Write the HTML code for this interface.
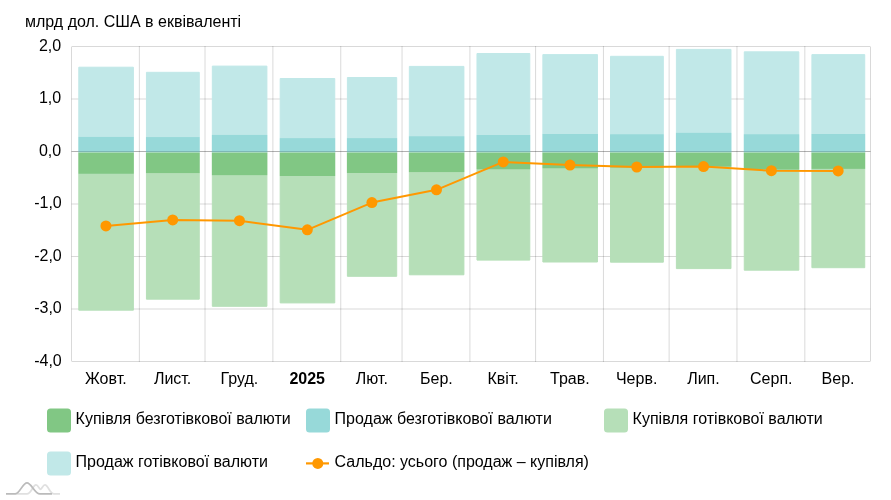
<!DOCTYPE html>
<html lang="uk"><head><meta charset="utf-8"><title>Chart</title>
<style>html,body{margin:0;padding:0;background:#fff}svg text{font-family:"Liberation Sans", Arial, sans-serif}body{width:891px;height:500px;overflow:hidden}</style>
</head><body>
<svg width="891" height="500" viewBox="0 0 891 500" style="display:block">
<rect width="891" height="500" fill="#fff"/>
<line x1="71.5" x2="870.5" y1="46.5" y2="46.5" stroke="#000" stroke-opacity="0.15" stroke-width="1"/>
<line x1="71.5" x2="870.5" y1="99.0" y2="99.0" stroke="#000" stroke-opacity="0.15" stroke-width="1"/>
<line x1="71.5" x2="870.5" y1="204.0" y2="204.0" stroke="#000" stroke-opacity="0.15" stroke-width="1"/>
<line x1="71.5" x2="870.5" y1="256.5" y2="256.5" stroke="#000" stroke-opacity="0.15" stroke-width="1"/>
<line x1="71.5" x2="870.5" y1="309.0" y2="309.0" stroke="#000" stroke-opacity="0.15" stroke-width="1"/>
<line x1="71.5" x2="870.5" y1="361.5" y2="361.5" stroke="#000" stroke-opacity="0.15" stroke-width="1"/>
<line x1="71.50" x2="71.50" y1="47" y2="361" stroke="#000" stroke-opacity="0.15" stroke-width="1"/>
<line x1="139.36" x2="139.36" y1="46" y2="362" stroke="#000" stroke-opacity="0.15" stroke-width="1"/>
<line x1="205.03" x2="205.03" y1="46" y2="362" stroke="#000" stroke-opacity="0.15" stroke-width="1"/>
<line x1="272.89" x2="272.89" y1="46" y2="362" stroke="#000" stroke-opacity="0.15" stroke-width="1"/>
<line x1="340.75" x2="340.75" y1="46" y2="362" stroke="#000" stroke-opacity="0.15" stroke-width="1"/>
<line x1="402.05" x2="402.05" y1="46" y2="362" stroke="#000" stroke-opacity="0.15" stroke-width="1"/>
<line x1="469.91" x2="469.91" y1="46" y2="362" stroke="#000" stroke-opacity="0.15" stroke-width="1"/>
<line x1="535.58" x2="535.58" y1="46" y2="362" stroke="#000" stroke-opacity="0.15" stroke-width="1"/>
<line x1="603.44" x2="603.44" y1="46" y2="362" stroke="#000" stroke-opacity="0.15" stroke-width="1"/>
<line x1="669.11" x2="669.11" y1="46" y2="362" stroke="#000" stroke-opacity="0.15" stroke-width="1"/>
<line x1="736.97" x2="736.97" y1="46" y2="362" stroke="#000" stroke-opacity="0.15" stroke-width="1"/>
<line x1="804.83" x2="804.83" y1="46" y2="362" stroke="#000" stroke-opacity="0.15" stroke-width="1"/>
<line x1="870.50" x2="870.50" y1="47" y2="361" stroke="#000" stroke-opacity="0.15" stroke-width="1"/>
<line x1="71.5" x2="870.5" y1="151.5" y2="151.5" stroke="#000" stroke-opacity="0.17" stroke-width="1"/>
<rect x="78.79" y="67.20" width="54.59" height="69.70" fill="#c1e8e8" stroke="#c1e8e8" stroke-width="1" stroke-linejoin="round"/>
<rect x="78.79" y="173.80" width="54.59" height="136.40" fill="#b6dfb8" stroke="#b6dfb8" stroke-width="1" stroke-linejoin="round"/>
<rect x="78.29" y="136.90" width="55.59" height="15.60" fill="#97d9d9"/>
<rect x="78.29" y="152.50" width="55.59" height="21.30" fill="#81c784"/>
<rect x="146.43" y="72.30" width="52.84" height="64.75" fill="#c1e8e8" stroke="#c1e8e8" stroke-width="1" stroke-linejoin="round"/>
<rect x="146.43" y="173.10" width="52.84" height="126.10" fill="#b6dfb8" stroke="#b6dfb8" stroke-width="1" stroke-linejoin="round"/>
<rect x="145.93" y="137.05" width="53.84" height="15.45" fill="#97d9d9"/>
<rect x="145.93" y="152.50" width="53.84" height="20.60" fill="#81c784"/>
<rect x="212.32" y="66.10" width="54.59" height="68.80" fill="#c1e8e8" stroke="#c1e8e8" stroke-width="1" stroke-linejoin="round"/>
<rect x="212.32" y="175.20" width="54.59" height="131.10" fill="#b6dfb8" stroke="#b6dfb8" stroke-width="1" stroke-linejoin="round"/>
<rect x="211.82" y="134.90" width="55.59" height="17.60" fill="#97d9d9"/>
<rect x="211.82" y="152.50" width="55.59" height="22.70" fill="#81c784"/>
<rect x="280.18" y="78.50" width="54.59" height="59.60" fill="#c1e8e8" stroke="#c1e8e8" stroke-width="1" stroke-linejoin="round"/>
<rect x="280.18" y="176.00" width="54.59" height="126.90" fill="#b6dfb8" stroke="#b6dfb8" stroke-width="1" stroke-linejoin="round"/>
<rect x="279.68" y="138.10" width="55.59" height="14.40" fill="#97d9d9"/>
<rect x="279.68" y="152.50" width="55.59" height="23.50" fill="#81c784"/>
<rect x="347.38" y="77.50" width="49.33" height="60.60" fill="#c1e8e8" stroke="#c1e8e8" stroke-width="1" stroke-linejoin="round"/>
<rect x="347.38" y="173.00" width="49.33" height="103.30" fill="#b6dfb8" stroke="#b6dfb8" stroke-width="1" stroke-linejoin="round"/>
<rect x="346.88" y="138.10" width="50.33" height="14.40" fill="#97d9d9"/>
<rect x="346.88" y="152.50" width="50.33" height="20.50" fill="#81c784"/>
<rect x="409.33" y="66.40" width="54.59" height="69.80" fill="#c1e8e8" stroke="#c1e8e8" stroke-width="1" stroke-linejoin="round"/>
<rect x="409.33" y="172.10" width="54.59" height="102.70" fill="#b6dfb8" stroke="#b6dfb8" stroke-width="1" stroke-linejoin="round"/>
<rect x="408.83" y="136.20" width="55.59" height="16.30" fill="#97d9d9"/>
<rect x="408.83" y="152.50" width="55.59" height="19.60" fill="#81c784"/>
<rect x="476.97" y="53.50" width="52.84" height="81.50" fill="#c1e8e8" stroke="#c1e8e8" stroke-width="1" stroke-linejoin="round"/>
<rect x="476.97" y="169.30" width="52.84" height="90.80" fill="#b6dfb8" stroke="#b6dfb8" stroke-width="1" stroke-linejoin="round"/>
<rect x="476.47" y="135.00" width="53.84" height="17.50" fill="#97d9d9"/>
<rect x="476.47" y="152.50" width="53.84" height="16.80" fill="#81c784"/>
<rect x="542.86" y="54.60" width="54.59" height="79.40" fill="#c1e8e8" stroke="#c1e8e8" stroke-width="1" stroke-linejoin="round"/>
<rect x="542.86" y="168.30" width="54.59" height="93.70" fill="#b6dfb8" stroke="#b6dfb8" stroke-width="1" stroke-linejoin="round"/>
<rect x="542.36" y="134.00" width="55.59" height="18.50" fill="#97d9d9"/>
<rect x="542.36" y="152.50" width="55.59" height="15.80" fill="#81c784"/>
<rect x="610.50" y="56.30" width="52.84" height="77.90" fill="#c1e8e8" stroke="#c1e8e8" stroke-width="1" stroke-linejoin="round"/>
<rect x="610.50" y="167.60" width="52.84" height="94.60" fill="#b6dfb8" stroke="#b6dfb8" stroke-width="1" stroke-linejoin="round"/>
<rect x="610.00" y="134.20" width="53.84" height="18.30" fill="#97d9d9"/>
<rect x="610.00" y="152.50" width="53.84" height="15.10" fill="#81c784"/>
<rect x="676.39" y="49.40" width="54.59" height="83.40" fill="#c1e8e8" stroke="#c1e8e8" stroke-width="1" stroke-linejoin="round"/>
<rect x="676.39" y="166.70" width="54.59" height="101.90" fill="#b6dfb8" stroke="#b6dfb8" stroke-width="1" stroke-linejoin="round"/>
<rect x="675.89" y="132.80" width="55.59" height="19.70" fill="#97d9d9"/>
<rect x="675.89" y="152.50" width="55.59" height="14.20" fill="#81c784"/>
<rect x="744.25" y="51.80" width="54.59" height="82.40" fill="#c1e8e8" stroke="#c1e8e8" stroke-width="1" stroke-linejoin="round"/>
<rect x="744.25" y="169.60" width="54.59" height="100.60" fill="#b6dfb8" stroke="#b6dfb8" stroke-width="1" stroke-linejoin="round"/>
<rect x="743.75" y="134.20" width="55.59" height="18.30" fill="#97d9d9"/>
<rect x="743.75" y="152.50" width="55.59" height="17.10" fill="#81c784"/>
<rect x="811.90" y="54.60" width="52.84" height="79.40" fill="#c1e8e8" stroke="#c1e8e8" stroke-width="1" stroke-linejoin="round"/>
<rect x="811.90" y="168.90" width="52.84" height="98.80" fill="#b6dfb8" stroke="#b6dfb8" stroke-width="1" stroke-linejoin="round"/>
<rect x="811.40" y="134.00" width="53.84" height="18.50" fill="#97d9d9"/>
<rect x="811.40" y="152.50" width="53.84" height="16.40" fill="#81c784"/>
<line x1="71.5" x2="870.5" y1="151.5" y2="151.5" stroke="#000" stroke-opacity="0.16" stroke-width="1"/>
<polyline fill="none" stroke="#ff9800" stroke-width="2" stroke-linejoin="round" points="105.93,225.90 172.70,219.90 239.46,220.70 307.32,229.80 371.90,202.60 436.48,189.80 503.24,161.90 570.01,165.10 636.77,167.00 703.54,166.60 771.40,170.70 838.16,170.90"/>
<circle cx="105.93" cy="225.90" r="5.5" fill="#ff9800"/>
<circle cx="172.70" cy="219.90" r="5.5" fill="#ff9800"/>
<circle cx="239.46" cy="220.70" r="5.5" fill="#ff9800"/>
<circle cx="307.32" cy="229.80" r="5.5" fill="#ff9800"/>
<circle cx="371.90" cy="202.60" r="5.5" fill="#ff9800"/>
<circle cx="436.48" cy="189.80" r="5.5" fill="#ff9800"/>
<circle cx="503.24" cy="161.90" r="5.5" fill="#ff9800"/>
<circle cx="570.01" cy="165.10" r="5.5" fill="#ff9800"/>
<circle cx="636.77" cy="167.00" r="5.5" fill="#ff9800"/>
<circle cx="703.54" cy="166.60" r="5.5" fill="#ff9800"/>
<circle cx="771.40" cy="170.70" r="5.5" fill="#ff9800"/>
<circle cx="838.16" cy="170.90" r="5.5" fill="#ff9800"/>
<text x="25" y="27" font-size="16" fill="#000">млрд дол. США в еквіваленті</text>
<text x="61.2" y="51" font-size="16" text-anchor="end" fill="#000">2,0</text>
<text x="61.2" y="103" font-size="16" text-anchor="end" fill="#000">1,0</text>
<text x="61.2" y="156" font-size="16" text-anchor="end" fill="#000">0,0</text>
<text x="61.75" y="208" font-size="16" text-anchor="end" fill="#000">-1,0</text>
<text x="61.75" y="261" font-size="16" text-anchor="end" fill="#000">-2,0</text>
<text x="61.75" y="313" font-size="16" text-anchor="end" fill="#000">-3,0</text>
<text x="61.75" y="366" font-size="16" text-anchor="end" fill="#000">-4,0</text>
<text x="105.83" y="384" font-size="16" text-anchor="middle" fill="#000">Жовт.</text>
<text x="172.60" y="384" font-size="16" text-anchor="middle" fill="#000">Лист.</text>
<text x="239.36" y="384" font-size="16" text-anchor="middle" fill="#000">Груд.</text>
<text x="307.22" y="384" font-size="16" text-anchor="middle" fill="#000" font-weight="bold">2025</text>
<text x="371.80" y="384" font-size="16" text-anchor="middle" fill="#000">Лют.</text>
<text x="436.38" y="384" font-size="16" text-anchor="middle" fill="#000">Бер.</text>
<text x="503.14" y="384" font-size="16" text-anchor="middle" fill="#000">Квіт.</text>
<text x="569.91" y="384" font-size="16" text-anchor="middle" fill="#000">Трав.</text>
<text x="636.67" y="384" font-size="16" text-anchor="middle" fill="#000">Черв.</text>
<text x="703.44" y="384" font-size="16" text-anchor="middle" fill="#000">Лип.</text>
<text x="771.30" y="384" font-size="16" text-anchor="middle" fill="#000">Серп.</text>
<text x="838.06" y="384" font-size="16" text-anchor="middle" fill="#000">Вер.</text>
<rect x="47" y="408.6" width="24" height="24" rx="3.5" fill="#81c784"/><text x="75.6" y="424.4" font-size="16" fill="#000">Купівля безготівкової валюти</text>
<rect x="306" y="408.6" width="24" height="24" rx="3.5" fill="#97d9d9"/><text x="334.6" y="424.4" font-size="16" fill="#000">Продаж безготівкової валюти</text>
<rect x="604" y="408.6" width="24" height="24" rx="3.5" fill="#b6dfb8"/><text x="632.6" y="424.4" font-size="16" fill="#000">Купівля готівкової валюти</text>
<rect x="47" y="451.6" width="24" height="24" rx="3.5" fill="#c1e8e8"/><text x="75.6" y="467.1" font-size="16" fill="#000">Продаж готівкової валюти</text>
<line x1="306" x2="329" y1="463.4" y2="463.4" stroke="#ff9800" stroke-width="2.2"/><circle cx="317.8" cy="463.4" r="5.5" fill="#ff9800"/>
<text x="334.6" y="467.1" font-size="16" fill="#000">Сальдо: усього (продаж – купівля)</text>
<g transform="translate(0 478.9)" fill="none" stroke-linecap="butt" stroke-linejoin="round"><path d="M15 15 L27 15 C31 15 33 6 36 6 C38 6 39.5 10.5 40.5 10.5 C41.5 10.5 43 6 45 6 C48 6 50 15 54 15 L60 15" stroke="#e0e0e0" stroke-width="1.8"/><path d="M6 15 L15 15 C20 15 22.5 3.9 27 3.9 C31.5 3.9 34.5 15 39.9 15 L52 15" stroke="#bbbbbb" stroke-width="1.8"/></g>
</svg>
</body></html>
